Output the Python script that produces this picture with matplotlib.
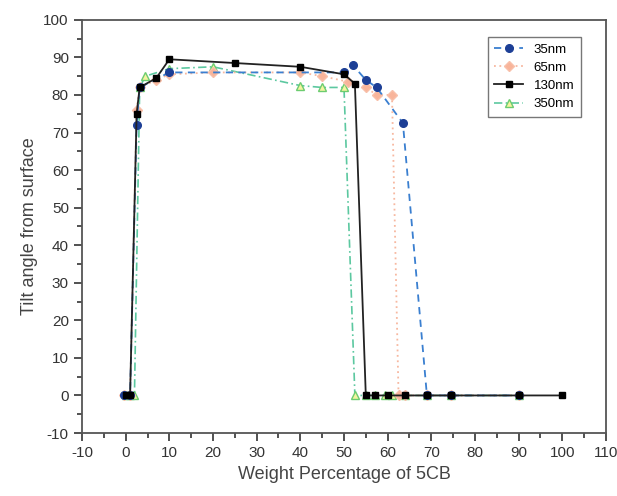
import matplotlib
matplotlib.use("Agg")
import matplotlib.pyplot as plt
from matplotlib.ticker import MultipleLocator

plt.rcParams['font.family'] = ['Liberation Sans', 'DejaVu Sans']
plt.rcParams['axes.unicode_minus'] = False

x35 = [-0.5, 1, 2.5, 3.2, 10, 50, 52, 55, 57.5, 63.5, 69, 74.5, 90]
y35 = [0, 0, 72, 82, 86, 86, 88, 84, 82, 72.5, 0, 0, 0]

x65 = [-0.5, 1, 2.5, 3.2, 7, 10, 20, 40, 45, 51, 55, 57.5, 61, 62.5, 64, 69, 74.5, 90]
y65 = [0, 0, 76, 82, 84, 85.5, 86, 86, 85, 83.5, 82, 80, 80, 0, 0, 0, 0, 0]

x130 = [0, 1, 2.5, 3.2, 7, 10, 25, 40, 50, 52.5, 55, 57, 60, 64, 69, 74.5, 90, 100]
y130 = [0, 0, 75, 82, 84.5, 89.5, 88.5, 87.5, 85.5, 83, 0, 0, 0, 0, 0, 0, 0, 0]

x350 = [0, 1, 2, 3.2, 4.5, 10, 20, 40, 45, 50, 52.5, 55, 57, 59.5, 61, 64, 69, 74.5, 90]
y350 = [0, 0, 0, 82, 85, 87, 87.5, 82.5, 82, 82, 0, 0, 0, 0, 0, 0, 0, 0, 0]

fig = plt.figure(figsize=(6.17, 4.96), dpi=100)
ax = fig.add_axes([0.133, 0.127, 0.849, 0.833])

ax.plot(x35, y35, color='#3a7fd0', ls=(0, (4, 3)), lw=1.3, marker='o', ms=5.5,
        mfc='#1d3f96', mec='#1d3f96', label='35nm', zorder=4)
ax.plot(x65, y65, color='#f7b8a0', ls=(0, (1, 2)), lw=1.3, marker='D', ms=5.5,
        mfc='#f8b49a', mec='#f8c0aa', label='65nm', zorder=3)
ax.plot(x130, y130, color='#222222', ls='-', lw=1.3, marker='s', ms=4.5,
        mfc='black', mec='black', label='130nm', zorder=5)
ax.plot(x350, y350, color='#5cc8a0', ls=(0, (5, 2, 1, 2)), lw=1.2, marker='^', ms=6,
        mfc='#f4f4a0', mec='#6ccc70', label='350nm', zorder=2)

ax.set_xlim(-10, 110)
ax.set_ylim(-10, 100)
ax.xaxis.set_major_locator(MultipleLocator(10))
ax.xaxis.set_minor_locator(MultipleLocator(5))
ax.yaxis.set_major_locator(MultipleLocator(10))
ax.yaxis.set_minor_locator(MultipleLocator(5))
ax.tick_params(which='major', direction='out', length=6, width=1.2, labelsize=11, colors='#333333')
ax.tick_params(which='minor', direction='out', length=3.5, width=1.2, colors='#333333')
for s in ax.spines.values():
    s.set_color('#555555')
    s.set_linewidth(1.3)

ax.set_xlabel('Weight Percentage of 5CB', fontsize=13, color='#444444')
ax.set_ylabel('Tilt angle from surface', fontsize=13, color='#444444')

leg = ax.legend(loc='upper right', bbox_to_anchor=(0.965, 0.975), fontsize=9.5,
                frameon=True, fancybox=False, edgecolor='#555555', handlelength=2.2,
                labelspacing=0.45, borderpad=0.5)
leg.get_frame().set_linewidth(1.0)

fig.savefig('out.png', dpi=100)
